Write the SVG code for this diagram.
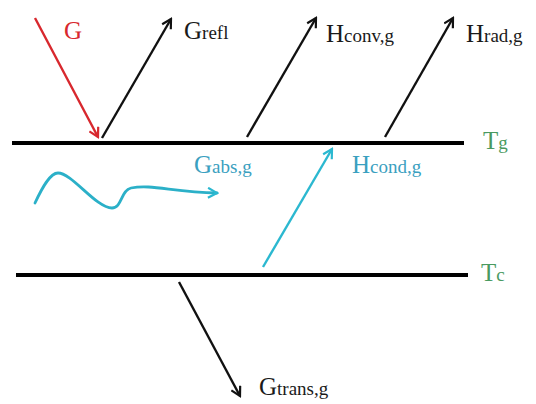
<svg xmlns="http://www.w3.org/2000/svg" width="536" height="404" viewBox="0 0 536 404">
<style>
.t{font-family:"Liberation Serif","Times New Roman",serif;font-size:25px}
.s{font-size:19px}
.k{fill:#1a1a1a}
.c{fill:#3aa0c0}
.r{fill:#d8282e}
.g{fill:#4a9a60}
.ln{stroke:#000;stroke-width:4;fill:none}
.ab{stroke:#111;stroke-width:2.4;fill:none;marker-end:url(#mk)}
.ar{stroke:#d8282e;stroke-width:2.4;fill:none;marker-end:url(#mr)}
.ac{stroke:#2bb8d0;stroke-width:2.4;fill:none;marker-end:url(#mc)}
.aw{stroke:#2bb0c8;stroke-width:2.8;fill:none;stroke-linecap:round;marker-end:url(#mc)}
</style>
<defs>
<marker id="mk" viewBox="0 0 12 12" refX="10" refY="6" markerWidth="12" markerHeight="12" markerUnits="userSpaceOnUse" orient="auto"><path d="M1,1 L10,6 L1,11" fill="none" stroke="#111" stroke-width="2.2"/></marker>
<marker id="mr" viewBox="0 0 12 12" refX="10" refY="6" markerWidth="12" markerHeight="12" markerUnits="userSpaceOnUse" orient="auto"><path d="M1,1 L10,6 L1,11" fill="none" stroke="#d8282e" stroke-width="2.2"/></marker>
<marker id="mc" viewBox="0 0 12 12" refX="10" refY="6" markerWidth="12" markerHeight="12" markerUnits="userSpaceOnUse" orient="auto"><path d="M1,1 L10,6 L1,11" fill="none" stroke="#2bb8d0" stroke-width="2.2"/></marker>
</defs>
<rect width="536" height="404" fill="#fff"/>
<g id="layer-glass"><line class="ln" x1="12" y1="143" x2="464" y2="143"/></g>
<g id="layer-cell"><line class="ln" x1="16" y1="275" x2="468" y2="275"/></g>
<g id="connectors">
<line class="ar" x1="35" y1="18" x2="98" y2="137"/>
<line class="ab" x1="102" y1="138" x2="171" y2="19"/>
<line class="ab" x1="247" y1="137" x2="316" y2="18"/>
<line class="ab" x1="385" y1="137" x2="453" y2="18"/>
<line class="ac" x1="263" y1="267" x2="332" y2="149"/>
<path class="aw" d="M35,203 C42,188 50,173 58,173 C72,173 96,208 112,208 C122,208 121,190 131,188 C152,184 172,192 217,193"/>
<line class="ab" x1="179" y1="282" x2="240" y2="396"/>
</g>
<g id="label-G"><text class="t r" x="64" y="39">G</text></g>
<g id="label-Grefl"><text class="t k" x="184" y="39">G<tspan class="s">refl</tspan></text></g>
<g id="label-Hconv"><text class="t k" x="326" y="42">H<tspan class="s">conv,g</tspan></text></g>
<g id="label-Hrad"><text class="t k" x="466" y="42">H<tspan class="s">rad,g</tspan></text></g>
<g id="label-Tg"><text class="t g" x="483" y="149">T<tspan class="s">g</tspan></text></g>
<g id="label-Gabs"><text class="t c" x="194" y="173">G<tspan class="s">abs,g</tspan></text></g>
<g id="label-Hcond"><text class="t c" x="352" y="173">H<tspan class="s">cond,g</tspan></text></g>
<g id="label-Tc"><text class="t g" x="481" y="281">T<tspan class="s">c</tspan></text></g>
<g id="label-Gtrans"><text class="t k" x="259" y="395">G<tspan class="s">trans,g</tspan></text></g>
</svg>
